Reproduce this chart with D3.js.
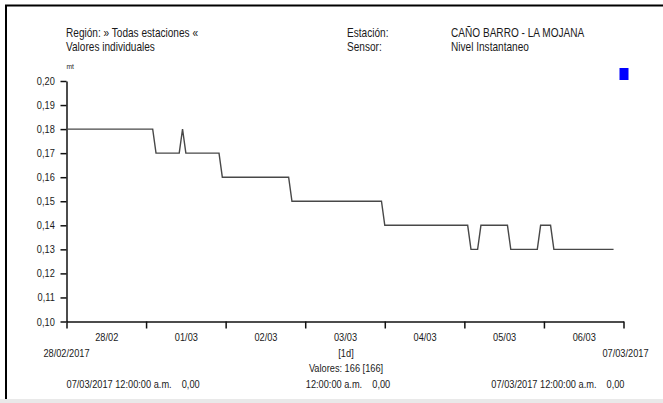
<!DOCTYPE html>
<html>
<head>
<meta charset="utf-8">
<script src="https://cdnjs.cloudflare.com/ajax/libs/d3/7.8.5/d3.min.js"></script>
<style>
  body { margin: 0; background: #fff; }
  svg { display: block; }
  text { font-family: "Liberation Sans", Arial, sans-serif; fill: #1a1a1a; }
</style>
</head>
<body>
<div id="chart"></div>
<script>
// ---- data ----
var startDate = new Date(2017, 1, 28, 0, 0);   // 28/02/2017
var endDate   = new Date(2017, 2, 7, 0, 0);    // 07/03/2017
var yTicks = [0.10, 0.11, 0.12, 0.13, 0.14, 0.15, 0.16, 0.17, 0.18, 0.19, 0.20];

// Nivel Instantaneo, one value per hour (166 values)
var nivel = [
  // 28/02
  0.18,0.18,0.18,0.18,0.18,0.18,0.18,0.18,0.18,0.18,0.18,0.18,
  0.18,0.18,0.18,0.18,0.18,0.18,0.18,0.18,0.18,0.18,0.18,0.18,
  // 01/03
  0.18,0.18,0.18,0.17,0.17,0.17,0.17,0.17,0.17,0.17,0.17,0.18,
  0.17,0.17,0.17,0.17,0.17,0.17,0.17,0.17,0.17,0.17,0.17,0.16,
  // 02/03
  0.16,0.16,0.16,0.16,0.16,0.16,0.16,0.16,0.16,0.16,0.16,0.16,
  0.16,0.16,0.16,0.16,0.16,0.16,0.16,0.16,0.15,0.15,0.15,0.15,
  // 03/03
  0.15,0.15,0.15,0.15,0.15,0.15,0.15,0.15,0.15,0.15,0.15,0.15,
  0.15,0.15,0.15,0.15,0.15,0.15,0.15,0.15,0.15,0.15,0.15,0.15,
  // 04/03
  0.14,0.14,0.14,0.14,0.14,0.14,0.14,0.14,0.14,0.14,0.14,0.14,
  0.14,0.14,0.14,0.14,0.14,0.14,0.14,0.14,0.14,0.14,0.14,0.14,
  // 05/03
  0.14,0.14,0.13,0.13,0.13,0.14,0.14,0.14,0.14,0.14,0.14,0.14,
  0.14,0.14,0.13,0.13,0.13,0.13,0.13,0.13,0.13,0.13,0.13,0.14,
  // 06/03
  0.14,0.14,0.14,0.13,0.13,0.13,0.13,0.13,0.13,0.13,0.13,0.13,
  0.13,0.13,0.13,0.13,0.13,0.13,0.13,0.13,0.13,0.13
];

var headerLeft  = ["Región: » Todas estaciones «", "Valores individuales"];
var headerMid   = ["Estación:", "Sensor:"];
var headerRight = ["CAÑO BARRO - LA MOJANA", "Nivel Instantaneo"];
var unitLabel = "mt";
var intervalLabel = "[1d]";
var countLabel = "Valores: 166 [166]";
var footLeft  = ["07/03/2017 12:00:00 a.m.", "0,00"];
var footMid   = ["12:00:00 a.m.", "0,00"];
var footRight = ["07/03/2017 12:00:00 a.m.", "0,00"];

// ---- chart ----
var width = 663, height = 403;
var margin = {top: 81, right: 39.5, bottom: 81.5, left: 66.5};
var squeeze = 0.84;   // the original font is a narrow one

var svg = d3.select("#chart").append("svg")
    .attr("width", width).attr("height", height);

// frame
svg.append("rect").attr("x", 0).attr("y", 399).attr("width", width).attr("height", 4).attr("fill", "#e9e9e9");
svg.append("path").attr("d", "M6,399V5.5H" + width).attr("fill", "none").attr("stroke", "#000").attr("stroke-width", 2);

var x = d3.scaleTime()
    .domain([startDate, endDate])
    .range([margin.left, width - margin.right]);

var y = d3.scaleLinear()
    .domain([0.10, 0.20])
    .range([height - margin.bottom, margin.top]);

var es = d3.formatLocale({decimal: ",", thousands: ".", grouping: [3], currency: ["", ""]});

function label(px, py, str, size, anchor) {
  return svg.append("text")
      .attr("transform", "translate(" + px + "," + py + ") scale(" + squeeze + ",1)")
      .attr("text-anchor", anchor || "start")
      .style("font-size", size + "px")
      .text(str);
}

function twoPart(px, py, parts, anchor) {
  var t = label(px, py, "", 11, anchor);
  t.append("tspan").text(parts[0]);
  t.append("tspan").attr("dx", 12).text(parts[1]);
  return t;
}

// header
headerLeft.forEach(function(s, i) { label(66, 37 + i * 13.5, s, 12); });
headerMid.forEach(function(s, i) { label(347, 37 + i * 13.5, s, 12); });
headerRight.forEach(function(s, i) { label(451, 37 + i * 13.5, s, 12); });
label(margin.left, 69, unitLabel, 8);

// legend marker
svg.append("rect").attr("x", x.range()[1] - 4).attr("y", 68).attr("width", 9).attr("height", 12).attr("fill", "#0000ff");

// y axis
var gy = svg.append("g")
    .attr("transform", "translate(" + margin.left + ",0)")
    .call(d3.axisLeft(y).tickValues(yTicks).tickSize(6).tickSizeOuter(0).tickFormat(es.format(".2f")));

// x axis: day ticks, labels centred on each day
var days = d3.timeDay.range(startDate, d3.timeDay.offset(endDate, 1));
var noons = d3.timeDay.range(startDate, endDate).map(function(d) { return d3.timeHour.offset(d, 12); });

var gx = svg.append("g")
    .attr("transform", "translate(0," + y.range()[0] + ")")
    .call(d3.axisBottom(x).tickValues(days).tickSize(7).tickSizeOuter(0).tickFormat(""));

var gxl = svg.append("g")
    .attr("transform", "translate(0," + y.range()[0] + ")")
    .call(d3.axisBottom(x).tickValues(noons).tickSize(0).tickPadding(11.2).tickFormat(d3.timeFormat("%d/%m")));
gxl.select(".domain").remove();

[gy, gx, gxl].forEach(function(g) {
  g.attr("color", "#111");
  g.selectAll("path, line").attr("stroke-width", 1.5);
  g.selectAll("text").style("font-size", "11px").attr("fill", "#1a1a1a")
    .attr("font-family", null);
});
gy.selectAll("text").attr("transform", "scale(" + squeeze + ",1)").attr("x", -11.7 / squeeze);
gxl.selectAll("text").attr("transform", "scale(" + squeeze + ",1)");

// line
var series = nivel.map(function(v, i) { return {t: d3.timeHour.offset(startDate, i), v: v}; });
svg.append("path")
    .datum(series)
    .attr("fill", "none")
    .attr("stroke", "#484848")
    .attr("stroke-width", 1.4)
    .attr("d", d3.line().x(function(d) { return x(d.t); }).y(function(d) { return y(d.v); }));

// under the axis
var fmtDate = d3.timeFormat("%d/%m/%Y");
var xMid = (x.range()[0] + x.range()[1]) / 2;
label(x.range()[0], 357, fmtDate(startDate), 11, "middle");
label(x.range()[1] + 2, 357, fmtDate(endDate), 11, "middle");
label(xMid + 1, 357, intervalLabel, 11, "middle");
label(xMid + 1, 372, countLabel, 11, "middle");
twoPart(x.range()[0], 388, footLeft, "start");
twoPart(xMid + 3, 388, footMid, "middle");
twoPart(x.range()[1] + 1, 388, footRight, "end");
</script>
</body>
</html>
